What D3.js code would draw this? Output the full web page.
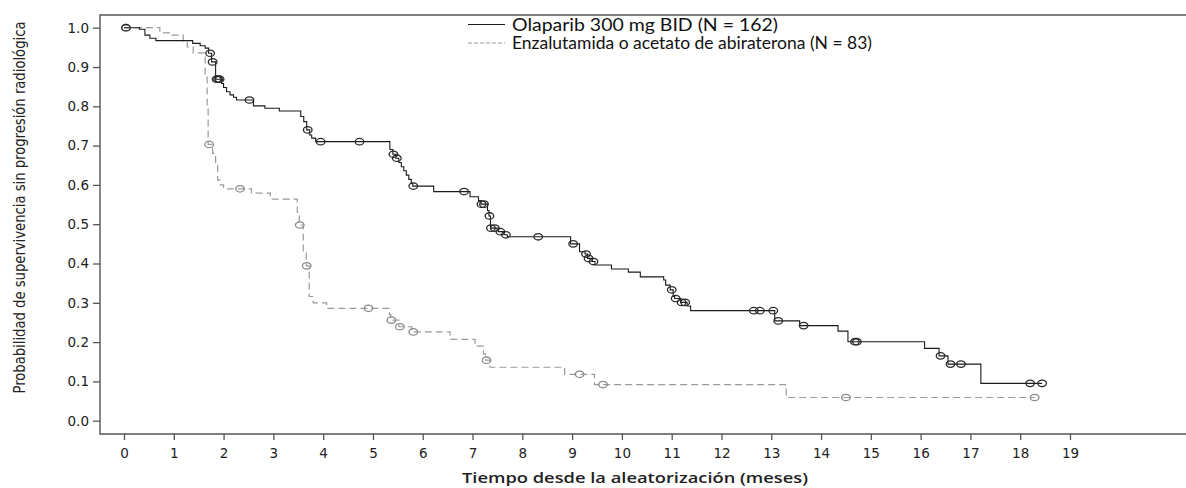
<!DOCTYPE html>
<html>
<head>
<meta charset="utf-8">
<script src="https://cdn.jsdelivr.net/npm/d3@7"></script>
<style>
  body { margin: 0; background: #fff; }
  .tick text { font-family: "DejaVu Sans", Verdana, sans-serif; font-size: 13.5px; fill: #222; }
  .tick line { stroke: #555; stroke-width: 1.3; }
</style>
</head>
<body>
<div id="chart"></div>
<script>
const svgWidth = 1186;
const svgHeight = 488;

// time (months) and survival right after each step
const olaTimes = [0, 0.31, 0.42, 0.52, 0.64, 1.38, 1.53, 1.63, 1.70, 1.76, 1.84, 1.96, 2.0, 2.06, 2.13, 2.2, 2.26, 2.6, 2.83, 3.12,
  3.55, 3.61, 3.67, 3.73, 3.77, 3.85, 5.34, 5.40, 5.46, 5.52, 5.57, 5.62, 5.67, 5.72, 5.77, 5.80, 6.22, 6.95, 7.12, 7.17,
  7.30, 7.33, 7.36, 7.52, 7.63, 7.70, 8.97, 9.15, 9.26, 9.31, 9.40, 9.46, 9.79, 10.13, 10.37, 10.84, 10.88, 10.97, 11.03, 11.06,
  11.18, 11.31, 11.38, 13.07, 13.57, 14.34, 14.54, 16.08, 16.37, 16.55, 17.21, 18.44];
const olaSurv = [1.0, 0.996, 0.981, 0.973, 0.967, 0.960, 0.954, 0.948, 0.935, 0.913, 0.869, 0.858, 0.848, 0.837, 0.829, 0.823, 0.816, 0.801, 0.795, 0.788,
  0.774, 0.761, 0.740, 0.727, 0.719, 0.710, 0.690, 0.678, 0.668, 0.657, 0.646, 0.636, 0.625, 0.614, 0.604, 0.597, 0.583, 0.570, 0.560, 0.551,
  0.535, 0.521, 0.490, 0.481, 0.473, 0.468, 0.450, 0.430, 0.424, 0.413, 0.405, 0.396, 0.386, 0.378, 0.366, 0.358, 0.345, 0.333, 0.316, 0.311,
  0.301, 0.292, 0.280, 0.254, 0.242, 0.228, 0.201, 0.184, 0.165, 0.144, 0.095, 0.095];
const olaCensT = [0.04, 1.73, 1.78, 1.86, 1.89, 1.92, 2.52, 3.69, 3.95, 4.73, 5.41, 5.48, 5.81, 6.83, 7.18, 7.23, 7.34, 7.37, 7.45, 7.56, 7.67,
  8.32, 9.02, 9.28, 9.33, 9.43, 11.0, 11.08, 11.2, 11.27, 12.65, 12.77, 13.04, 13.14, 13.65, 14.68, 14.72, 16.40, 16.6, 16.81, 18.2, 18.44];
const olaCensS = [1.0, 0.935, 0.913, 0.869, 0.869, 0.869, 0.816, 0.740, 0.710, 0.710, 0.678, 0.668, 0.597, 0.583, 0.551, 0.551, 0.521, 0.490, 0.490, 0.481, 0.473,
  0.468, 0.450, 0.424, 0.413, 0.405, 0.333, 0.311, 0.301, 0.301, 0.280, 0.280, 0.280, 0.254, 0.242, 0.201, 0.201, 0.165, 0.144, 0.144, 0.095, 0.095];

const enzTimes = [0, 0.72, 0.94, 1.19, 1.27, 1.39, 1.63, 1.67, 1.69, 1.78, 1.84, 1.88, 1.93, 2.0, 2.56, 2.94, 3.48, 3.52, 3.60, 3.66,
  3.72, 3.80, 4.07, 5.33, 5.36, 5.52, 5.78, 6.55, 7.05, 7.22, 7.26, 7.35, 8.85, 9.45, 13.3, 18.29];
const enzSurv = [1.0, 0.987, 0.981, 0.963, 0.951, 0.936, 0.875, 0.80, 0.703, 0.680, 0.655, 0.612, 0.600, 0.590, 0.579, 0.564, 0.530, 0.498, 0.430, 0.394,
  0.316, 0.300, 0.286, 0.270, 0.256, 0.239, 0.226, 0.207, 0.190, 0.170, 0.154, 0.136, 0.118, 0.092, 0.059, 0.059];
const enzCensT = [0.04, 1.71, 2.33, 3.53, 3.67, 4.91, 5.37, 5.54, 5.81, 7.28, 9.15, 9.62, 14.5, 18.29];
const enzCensS = [1.0, 0.703, 0.590, 0.498, 0.394, 0.286, 0.256, 0.239, 0.226, 0.154, 0.118, 0.092, 0.059, 0.059];

const xTicks = d3.range(0, 20);
const yTicks = d3.range(0, 11).map(d => d / 10);
const legendLabels = ["Olaparib 300 mg BID (N = 162)", "Enzalutamida o acetato de abiraterona (N = 83)"];

const svg = d3.select("#chart")
  .append("svg")
  .attr("width", svgWidth)
  .attr("height", svgHeight);

const x = d3.scaleLinear().domain([0, 19]).range([124, 1070]);
const y = d3.scaleLinear().domain([0, 1]).range([420.7, 27.7]);

// frame (right side runs off the picture)
svg.append("path")
  .attr("d", "M1190,15H100V434H1190")
  .attr("fill", "none")
  .attr("stroke", "#555")
  .attr("stroke-width", 1.4);

const xAxis = svg.append("g")
  .attr("transform", "translate(0,434)")
  .call(d3.axisBottom(x).tickValues(xTicks).tickSize(6).tickPadding(8).tickFormat(d3.format("d")));
xAxis.select(".domain").remove();

const yAxis = svg.append("g")
  .attr("transform", "translate(100,0)")
  .call(d3.axisLeft(y).tickValues(yTicks).tickSize(7).tickPadding(4).tickFormat(d3.format(".1f")));
yAxis.select(".domain").remove();

const stepLine = d3.line()
  .x(d => x(d[0]))
  .y(d => y(d[1]))
  .curve(d3.curveStepAfter);

const olaData = olaTimes.map((t, i) => [t, olaSurv[i]]);
const enzData = enzTimes.map((t, i) => [t, enzSurv[i]]);

svg.append("path")
  .datum(enzData)
  .attr("d", stepLine)
  .attr("fill", "none")
  .attr("stroke", "#9a9a9a")
  .attr("stroke-width", 1.2)
  .attr("stroke-dasharray", "7,4");

svg.append("path")
  .datum(olaData)
  .attr("d", stepLine)
  .attr("fill", "none")
  .attr("stroke", "#1a1a1a")
  .attr("stroke-width", 1.1);

// censor marks
svg.selectAll(".censEnz")
  .data(enzCensT.map((t, i) => [t, enzCensS[i]]))
  .enter()
  .append("ellipse")
  .attr("cx", d => x(d[0]))
  .attr("cy", d => y(d[1]))
  .attr("rx", 4.3)
  .attr("ry", 3.2)
  .attr("fill", "none")
  .attr("stroke", "#8a8a8a")
  .attr("stroke-width", 1.3);

svg.selectAll(".censOla")
  .data(olaCensT.map((t, i) => [t, olaCensS[i]]))
  .enter()
  .append("ellipse")
  .attr("cx", d => x(d[0]))
  .attr("cy", d => y(d[1]))
  .attr("rx", 4.3)
  .attr("ry", 3.2)
  .attr("fill", "none")
  .attr("stroke", "#2a2a2a")
  .attr("stroke-width", 1.3);

// legend
const legend = svg.append("g");
legend.append("line").attr("x1", 468).attr("x2", 505).attr("y1", 24.5).attr("y2", 24.5)
  .attr("stroke", "#1a1a1a").attr("stroke-width", 1.1);
legend.append("line").attr("x1", 468).attr("x2", 505).attr("y1", 43).attr("y2", 43)
  .attr("stroke", "#9a9a9a").attr("stroke-width", 1).attr("stroke-dasharray", "4,2");
legend.selectAll("text")
  .data(legendLabels)
  .enter()
  .append("text")
  .attr("x", 512)
  .attr("y", (d, i) => 30.5 + i * 18.5)
  .attr("textLength", (d, i) => i === 0 ? 266 : 360)
  .attr("lengthAdjust", "spacingAndGlyphs")
  .style("font-family", "Lato, 'Open Sans', sans-serif")
  .style("font-size", "16.5px")
  .style("fill", "#111")
  .text(d => d);

// axis titles
svg.append("text")
  .attr("x", 635)
  .attr("y", 483)
  .attr("text-anchor", "middle")
  .attr("textLength", 346)
  .attr("lengthAdjust", "spacingAndGlyphs")
  .style("font-family", "'Open Sans', sans-serif")
  .style("font-size", "15px")
  .style("font-weight", 600)
  .style("fill", "#222")
  .text("Tiempo desde la aleatorización (meses)");

svg.append("text")
  .attr("transform", "translate(25,207.5) rotate(-90)")
  .attr("text-anchor", "middle")
  .attr("textLength", 372)
  .attr("lengthAdjust", "spacingAndGlyphs")
  .style("font-family", "'Liberation Sans Narrow', 'DejaVu Sans Condensed', sans-serif")
  .style("font-size", "15px")
  .style("fill", "#222")
  .text("Probabilidad de supervivencia sin progresión radiológica");
</script>
</body>
</html>
